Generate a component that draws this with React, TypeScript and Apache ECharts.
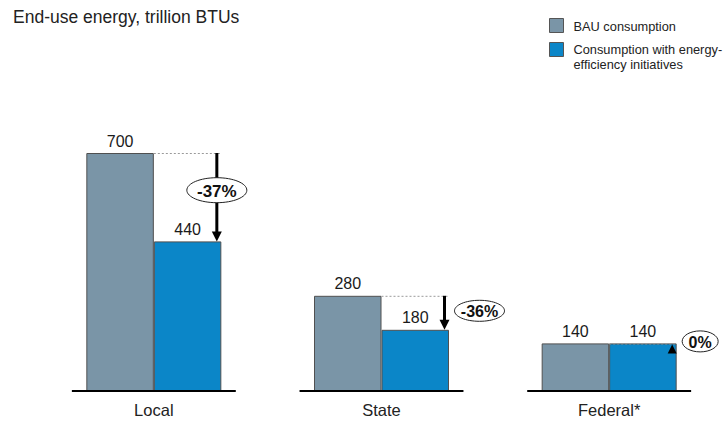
import React, { useEffect, useRef } from "react";
import * as echarts from "echarts";

const categories = ["Local", "State", "Federal*"];
const bauValues = [700, 280, 140];
const efficiencyValues = [440, 180, 140];
const seriesNames = ["BAU consumption", "Consumption with energy-\nefficiency initiatives"];
const titleText = "End-use energy, trillion BTUs";

const FONT = "'Liberation Sans', Arial, Helvetica, sans-serif";
const GRAY = "#7a95a7";
const BLUE = "#0b86c8";
const BAR_W = 67.5;

export default function App() {
  const ref = useRef<HTMLDivElement>(null);
  useEffect(() => {
    if (!ref.current) return;
    const chart = echarts.init(ref.current, null, { renderer: "svg" });
    const annot = categories.map((_, i) => {
      const pct = Math.round(((efficiencyValues[i] - bauValues[i]) / bauValues[i]) * 100);
      return [i, bauValues[i], efficiencyValues[i], pct + "%"];
    });
    const renderItem = (params: any, api: any) => {
      const idx = api.value(0);
      const bau = api.value(1);
      const eff = api.value(2);
      const label = annot[idx][3] as string;
      const base = api.coord([idx, 0]);
      const pb = api.coord([idx, bau]);
      const pe = api.coord([idx, eff]);
      const bw = api.size([1, 0])[0];
      const cx = base[0];
      const ax = cx + BAR_W - 4.5;
      const children: any[] = [];
      children.push({
        type: "line",
        shape: { x1: cx - bw * 0.36, y1: base[1], x2: cx + bw * 0.36, y2: base[1] },
        style: { stroke: "#000", lineWidth: 2 },
      });
      children.push({
        type: "line",
        shape: { x1: cx, y1: pb[1] + 0.5, x2: cx + BAR_W, y2: pb[1] + 0.5 },
        style: { stroke: "#9a9a9a", lineWidth: 1, lineDash: [2, 2] },
      });
      const len = pe[1] - pb[1];
      if (len > 1) {
        children.push({
          type: "line",
          shape: { x1: ax, y1: pb[1], x2: ax, y2: pe[1] - 9 },
          style: { stroke: "#000", lineWidth: 3 },
        });
        children.push({
          type: "polygon",
          shape: { points: [[ax - 5, pe[1] - 10], [ax + 5, pe[1] - 10], [ax, pe[1]]] },
          style: { fill: "#000" },
        });
      } else {
        children.push({
          type: "polygon",
          shape: { points: [[ax - 4.5, pb[1] + 10], [ax + 4.5, pb[1] + 10], [ax, pb[1] + 1]] },
          style: { fill: "#000" },
        });
      }
      let ex, ey, rx, ry, fs;
      if (len > 60) {
        rx = 30; ry = 12.5; fs = 17;
        ex = ax; ey = (pb[1] + pe[1]) / 2 - 7;
      } else {
        rx = 11 + 3.5 * label.length; ry = 10.5; fs = 16;
        ex = ax + 10 + rx; ey = (pb[1] + pe[1]) / 2 - 2;
      }
      children.push({
        type: "ellipse",
        shape: { cx: ex, cy: ey, rx, ry },
        style: { fill: "#fff", stroke: "#222", lineWidth: 1 },
      });
      children.push({
        type: "text",
        x: ex, y: ey + 1,
        style: {
          text: label, fontFamily: FONT, fontSize: fs, fontWeight: "bold",
          fill: "#111", align: "center", verticalAlign: "middle",
        },
      });
      return { type: "group", children };
    };
    const legendItems = [GRAY, BLUE].map((c, i) => ({
      type: "group",
      left: 549,
      top: i === 0 ? 18 : 42,
      children: [
        { type: "rect", shape: { x: 0, y: 0, width: 14, height: 14 }, style: { fill: c, stroke: "#555", lineWidth: 1 } },
        {
          type: "text", x: 24, y: i === 0 ? 0 : -0.5,
          style: { text: seriesNames[i], fontFamily: FONT, fontSize: 12.8, lineHeight: 15, fill: "#222", verticalAlign: "top" },
        },
      ],
    }));
    chart.setOption({
      animation: false,
      textStyle: { fontFamily: FONT },
      title: {
        text: titleText, left: 13, top: 8, padding: 0,
        textStyle: { fontFamily: FONT, fontSize: 17.5, fontWeight: "normal", color: "#222" },
      },
      graphic: legendItems,
      grid: { left: 40, right: 3, top: 153, bottom: 33 },
      xAxis: {
        type: "category", data: categories,
        axisLine: { show: false }, axisTick: { show: false },
        axisLabel: { fontSize: 16.5, color: "#222", margin: 10, fontFamily: FONT },
      },
      yAxis: { type: "value", min: 0, max: 700, show: false },
      series: [
        {
          type: "bar", name: "BAU consumption", data: bauValues, barWidth: BAR_W, barGap: "0%",
          itemStyle: { color: GRAY, borderColor: "#505050", borderWidth: 1 },
          label: { show: true, position: "top", distance: 4, fontSize: 16, color: "#1a1a1a", fontFamily: FONT },
        },
        {
          type: "bar", name: "Consumption with energy-efficiency initiatives", data: efficiencyValues, barWidth: BAR_W, barGap: "0%",
          itemStyle: { color: BLUE, borderColor: "#505050", borderWidth: 1 },
          label: { show: true, position: "top", distance: 4, fontSize: 16, color: "#1a1a1a", fontFamily: FONT },
        },
        {
          type: "custom", renderItem, data: annot.map((a) => [a[0], a[1], a[2]]),
          encode: { x: 0, y: [1, 2] }, z: 5, silent: true,
        },
      ],
    });
    return () => chart.dispose();
  }, []);
  return <div ref={ref} style={{ position: "fixed", left: 0, top: 0, width: 726, height: 424, background: "#fff" }} />;
}
